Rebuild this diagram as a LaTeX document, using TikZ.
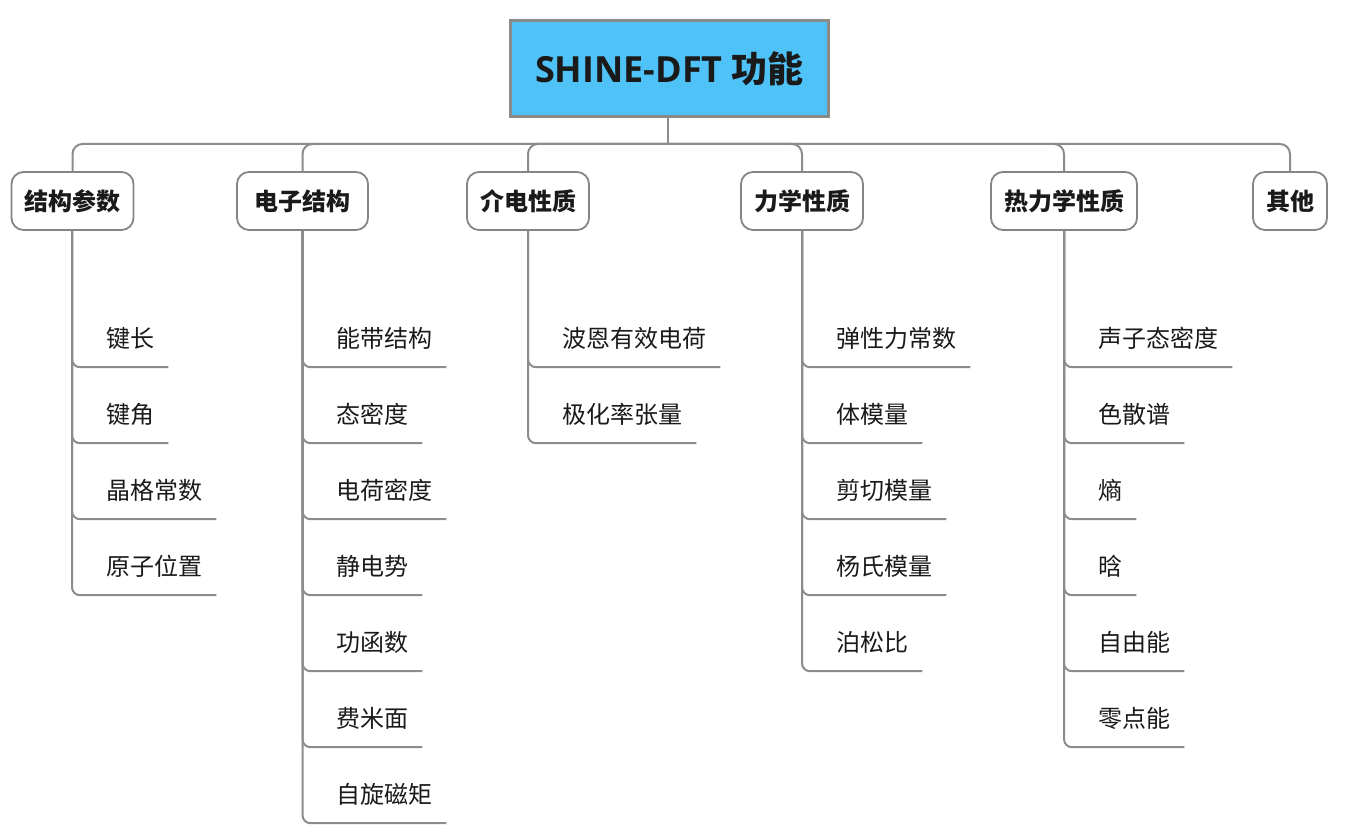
\documentclass[tikz,border=0pt]{standalone}
\usepackage{fontspec}
\setmainfont{Noto Sans CJK SC}
\newfontfamily\latinfont{Open Sans}
\definecolor{rootblue}{HTML}{4FC3F7}
\definecolor{rootborder}{HTML}{8A8A8A}
\definecolor{linegray}{HTML}{8C8C8C}
\definecolor{catborder}{HTML}{858585}
\definecolor{txt}{HTML}{1A1A1A}
\begin{document}
\begin{tikzpicture}[x=1pt,y=-1pt,
  conn/.style={draw=linegray, line width=2pt, rounded corners=10pt},
  leafconn/.style={draw=linegray, line width=2pt, rounded corners=8pt},
  rootbox/.style={draw=rootborder, line width=3pt, fill=rootblue, minimum width=318pt, minimum height=96pt, inner sep=0pt, text=txt},
  catbox/.style={draw=catborder, line width=1.8pt, rounded corners=12pt, fill=white, minimum height=58pt, inner xsep=13pt, inner ysep=0pt, text=txt, font=\fontsize{24}{28}\selectfont\bfseries},
  leaf/.style={anchor=west, inner xsep=14pt, inner ysep=0pt, minimum height=58pt, text=txt, font=\fontsize{24}{28}\selectfont}
]
\useasboundingbox (0,0) rectangle (1353,840);

\node[rootbox] (root) at (669.5,68.5) {\fontsize{36}{40}\selectfont\latinfont\bfseries SHINE-DFT {\normalfont\fontsize{36}{40}\selectfont\bfseries 功能}};
\coordinate (bar) at (668,144);
\draw[draw=linegray, line width=2pt] (668,118) -- (bar);

% categories
\node[catbox] (c1) at (72.5,201) {结构参数};
\node[catbox, minimum width=131pt] (c2) at (302.5,201) {电子结构};
\node[catbox] (c3) at (528,201) {介电性质};
\node[catbox] (c4) at (802,201) {力学性质};
\node[catbox] (c5) at (1064,201) {热力学性质};
\node[catbox] (c6) at (1290,201) {其他};

\foreach \c in {c1,c2,c3,c4,c5,c6}{
  \draw[conn] (bar) -| (\c.north);
}

% leaves: branch 1
\node[leaf] (l11) at (92,338) {键长};
\node[leaf] (l12) at (92,414) {键角};
\node[leaf] (l13) at (92,490) {晶格常数};
\node[leaf] (l14) at (92,566) {原子位置};
\foreach \l in {l11,l12,l13,l14}{ \draw[leafconn] (c1.south -| 72,0) |- (\l.south east); }

% branch 2
\node[leaf] (l21) at (322,338) {能带结构};
\node[leaf] (l22) at (322,414) {态密度};
\node[leaf] (l23) at (322,490) {电荷密度};
\node[leaf] (l24) at (322,566) {静电势};
\node[leaf] (l25) at (322,642) {功函数};
\node[leaf] (l26) at (322,718) {费米面};
\node[leaf] (l27) at (322,794) {自旋磁矩};
\foreach \l in {l21,l22,l23,l24,l25,l26,l27}{ \draw[leafconn] (c2.south) |- (\l.south east); }

% branch 3
\node[leaf] (l31) at (548,338) {波恩有效电荷};
\node[leaf] (l32) at (548,414) {极化率张量};
\foreach \l in {l31,l32}{ \draw[leafconn] (c3.south) |- (\l.south east); }

% branch 4
\node[leaf] (l41) at (822,338) {弹性力常数};
\node[leaf] (l42) at (822,414) {体模量};
\node[leaf] (l43) at (822,490) {剪切模量};
\node[leaf] (l44) at (822,566) {杨氏模量};
\node[leaf] (l45) at (822,642) {泊松比};
\foreach \l in {l41,l42,l43,l44,l45}{ \draw[leafconn] (c4.south) |- (\l.south east); }

% branch 5
\node[leaf] (l51) at (1084,338) {声子态密度};
\node[leaf] (l52) at (1084,414) {色散谱};
\node[leaf] (l53) at (1084,490) {熵};
\node[leaf] (l54) at (1084,566) {晗};
\node[leaf] (l55) at (1084,642) {自由能};
\node[leaf] (l56) at (1084,718) {零点能};
\foreach \l in {l51,l52,l53,l54,l55,l56}{ \draw[leafconn] (c5.south) |- (\l.south east); }
\end{tikzpicture}
\end{document}
